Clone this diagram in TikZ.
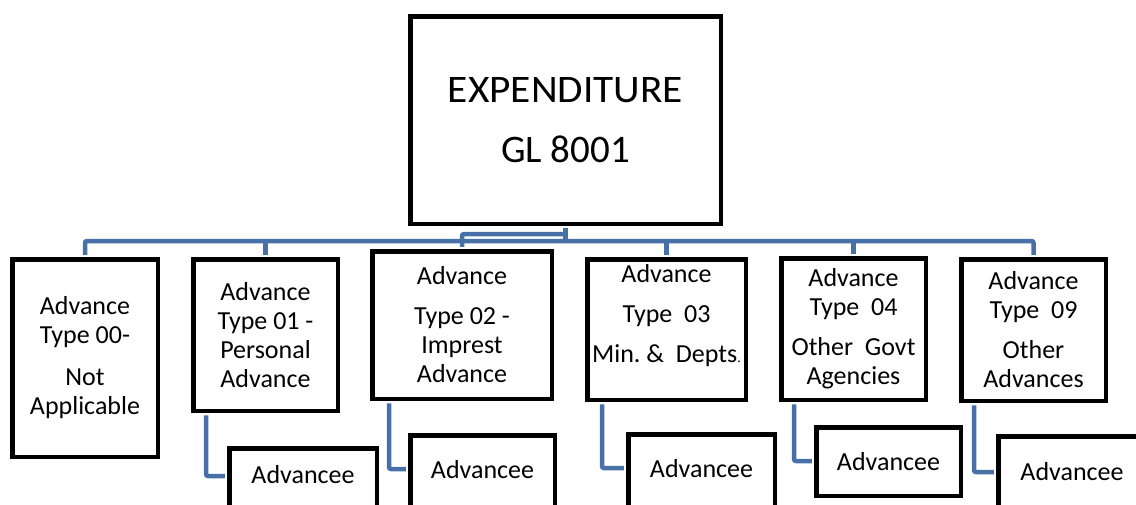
\documentclass[tikz,border=0pt]{standalone}
\usepackage{fontspec}
\setmainfont{Carlito}
\usepackage{xcolor}
\usepackage{tikz}
\definecolor{linkblue}{RGB}{70,112,166}

\begin{document}
\begin{tikzpicture}[x=1pt, y=-1pt,
                    box/.style n args={2}{draw, line width=4.5pt, fill=white,
                    minimum width=#1pt, minimum height=#2pt,
                    inner sep=0pt, align=center,
                    font=\fontsize{26}{29}\selectfont},
                    adv/.style n args={3}{box={#1}{#2},
                    text height=17pt, text depth=#3pt},
                    link/.style={draw=linkblue, line width=4.5pt,
                    rounded corners=2pt,
                    shorten <=2.25pt, shorten >=2.25pt}]
    \clip (0,0) rectangle (1136,504);
    \useasboundingbox (0,0) rectangle (1136,504);

    % general ledger head
    \node[box={310.5}{207.5}, font=\fontsize{39}{60}\selectfont] (top) at (565.5,120)
        {\scalebox{1.06}[1]{EXPENDITURE}\\GL 8001};

    % advance types
    \node[box={145.5}{197.5}] (b1) at (85,358)
        {Advance\\Type 00-\\[13pt]Not\\Applicable};
    \node[box={144.5}{151.5}] (b2) at (265.5,335)
        {Advance\\Type 01 -\\Personal\\Advance};
    \node[box={179.5}{147.5}] (b3) at (462,325)
        {Advance\\[11pt]Type 02 -\\Imprest\\Advance};
    \node[box={158.5}{140.5}] (b4) at (666.5,329.5)
        {Advance\\[11pt]Type~~03\\[11pt]Min.\ \&~~Depts{\fontsize{14}{14}\selectfont.}\\[3pt]\mbox{}};
    \node[box={144.5}{141.5}] (b5) at (853.5,329)
        {Advance\\Type~~04\\[11pt]Other~~Govt\\Agencies};
    \node[box={144.5}{141.5}] (b6) at (1033.5,330)
        {Advance\\Type~~09\\[11pt]Other\\Advances};

    % advancee boxes
    \node[adv={147.5}{75.5}{22.9}] (a1) at (303,486) {Advancee};
    \node[adv={144.5}{75.5}{6.9}] (a2) at (482.5,473) {Advancee};
    \node[adv={146.5}{75.5}{6.9}] (a3) at (701.5,472) {Advancee};
    \node[adv={144.5}{68.5}{0}] (a4) at (888.5,461.5) {Advancee};
    \node[adv={147.5}{75.5}{4.9}] (a5) at (1072,474) {Advancee};

    % connectors
    \coordinate (bus) at (0,241);
    \coordinate (tap) at (0,234);
    \draw[link] (b1.north) -- (b1.north |- bus) -- (b6.north |- bus) -- (b6.north);
    \foreach \b in {b2,b3,b4,b5}
        \draw[link] (\b.north) -- (\b.north |- bus);
    \draw[link] (top.south) -- (top.south |- bus);
    \draw[link] (top.south |- tap) -| (b3.north);

    \foreach \t/\a/\x/\y in {b2/a1/206/476, b3/a2/389/469, b4/a3/602/468,
                             b5/a4/794/461, b6/a5/974/472}{
        \coordinate (e) at (\x,\y);
        \draw[link] (\t.south -| e) |- (\a.west |- e);
    }
\end{tikzpicture}
\end{document}
